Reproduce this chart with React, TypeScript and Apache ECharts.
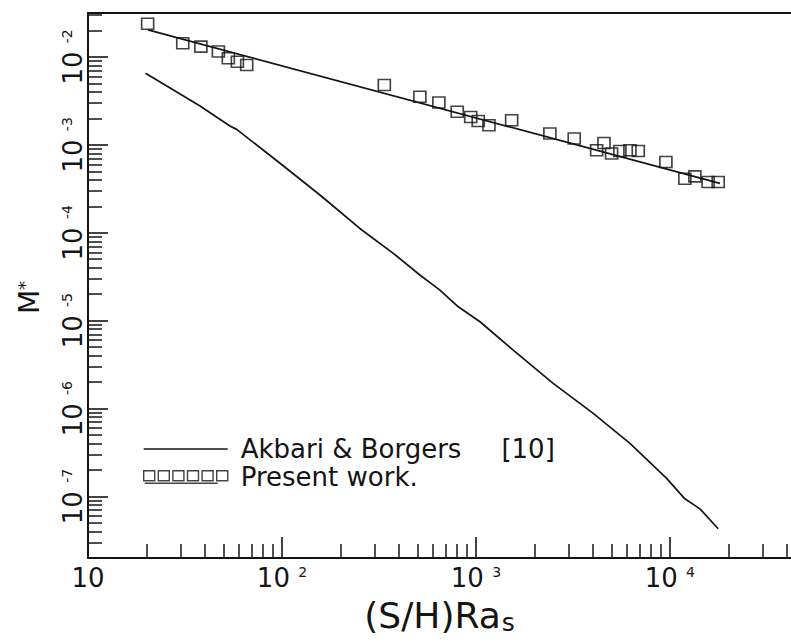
import React, { useEffect, useRef } from 'react';
import * as echarts from 'echarts';

// ---- data (log-log plot) ----
const presentX = [20.3, 30.8, 38.2, 47.0, 52.9, 58.9, 65.8, 337, 514, 644, 801, 940, 1028, 1167, 1528, 2405, 3211, 4191, 4571, 5005, 5522, 6222, 6869, 9534, 11940, 13450, 15740, 17740];
const presentY = [0.0238, 0.0143, 0.0131, 0.0115, 0.00966, 0.00884, 0.00811, 0.00479, 0.00352, 0.00304, 0.00238, 0.00208, 0.00187, 0.00167, 0.00191, 0.00135, 0.00118, 0.000868, 0.00105, 0.000796, 0.000851, 0.000868, 0.000851, 0.000638, 0.000412, 0.000438, 0.000378, 0.000378];
const fitX = [20.4, 18100];
const fitY = [0.0203, 0.000365];
const akbariX = [19.8, 37.8, 53.9, 58.4, 97.7, 157, 252, 375, 514, 652, 811, 1049, 1556, 2501, 4024, 6223, 9616, 11940, 14290, 17740];
const akbariY = [0.00653, 0.00277, 0.00164, 0.0015, 0.000618, 0.000269, 0.000112, 5.84e-5, 3.31e-5, 2.23e-5, 1.44e-5, 9.73e-6, 4.63e-6, 1.94e-6, 8.83e-7, 4.02e-7, 1.61e-7, 9.42e-8, 7.24e-8, 4.3e-8];
const xRange = [10, 42100];
const yRange = [2.0e-8, 0.0316];
const xLabelExponents = [1, 2, 3, 4];
const yLabelExponents = [-2, -3, -4, -5, -6, -7];
const akbariName = 'Akbari & Borgers [10]';
const presentName = 'Present work.';

const L = Math.log10;
const ink = '#141414';
const FONT = 'DejaVu Sans';

function minorTicks(lo: number, hi: number) {
  const out: number[] = [];
  for (let n = Math.floor(lo) - 1; n <= Math.ceil(hi); n++) {
    for (let k = 2; k <= 9; k++) {
      const v = n + L(k);
      if (v > lo && v < hi) out.push(v);
    }
  }
  return out;
}

export default function App() {
  const ref = useRef<HTMLDivElement>(null);
  useEffect(() => {
    if (!ref.current) return;
    const chart = echarts.init(ref.current, null, { renderer: 'svg' });
    const xMin = L(xRange[0]);
    const xMax = L(xRange[1]);
    const yMin = L(yRange[0]);
    const yMax = L(yRange[1]);

    const powRich = {
      b: { fontFamily: FONT, fontSize: 26, color: ink, lineHeight: 26 },
      s: { fontFamily: FONT, fontSize: 14, color: ink, lineHeight: 14, verticalAlign: 'top' },
    };
    const fmtPow = (v: number) => {
      const e = Math.round(v);
      return e === 1 ? '{b|10}' : `{b|10 }{s|${e}}`;
    };

    const squaresIcon =
      'path://M0,0h11v10h-11z M14.6,0h11v10h-11z M29.2,0h11v10h-11z M43.8,0h11v10h-11z M58.4,0h11v10h-11z M73,0h11v10h-11z M1,12.5L74,12.5';
    const lineIcon = 'path://M0,0h84v1.7h-84z';

    chart.setOption({
      animation: false,
      backgroundColor: '#ffffff',
      grid: { left: 88, right: 0, top: 13, bottom: 84, containLabel: false, outerBoundsMode: 'none' },
      legend: {
        orient: 'vertical',
        left: 143,
        top: 436,
        padding: 0,
        itemGap: 2,
        itemWidth: 84,
        itemHeight: 13,
        align: 'left',
        selectedMode: false,
        data: [
          { name: akbariName, icon: lineIcon, itemStyle: { color: ink, borderWidth: 0 } },
          {
            name: presentName,
            icon: squaresIcon,
            itemStyle: { color: 'rgba(0,0,0,0)', borderColor: ink, borderWidth: 1.4 },
          },
        ],
        formatter: (name: string) =>
          name === akbariName ? '{t|Akbari & Borgers}{r|[10]}' : '{t|Present work.}',
        textStyle: {
          rich: {
            t: { fontFamily: FONT, fontSize: 26, color: ink, lineHeight: 24, padding: [0, 0, 0, 8] },
            r: { fontFamily: FONT, fontSize: 26, color: ink, lineHeight: 24, padding: [0, 0, 0, 40] },
          },
        },
      },
      xAxis: [
        {
          type: 'value',
          min: xMin,
          max: xMax,
          position: 'bottom',
          splitLine: { show: false },
          axisLine: { show: true, onZero: false, lineStyle: { color: ink, width: 2 } },
          axisTick: { show: true, inside: true, length: 21, customValues: xLabelExponents, lineStyle: { color: ink, width: 1.6 } },
          axisLabel: { show: true, margin: 7, customValues: xLabelExponents, formatter: fmtPow, rich: powRich },
          name: '{a|(S/H)Ra}{b|s}',
          nameLocation: 'middle',
          nameGap: 19,
          nameTextStyle: {
            rich: {
              a: { fontFamily: FONT, fontSize: 36, color: ink, lineHeight: 44 },
              b: { fontFamily: FONT, fontSize: 25, color: ink, lineHeight: 25, padding: [14, 0, 0, 1] },
            },
          },
        },
        {
          type: 'value',
          min: xMin,
          max: xMax,
          position: 'bottom',
          splitLine: { show: false },
          axisLine: { show: false, onZero: false },
          axisTick: { show: true, inside: true, length: 14, customValues: minorTicks(xMin, xMax), lineStyle: { color: ink, width: 1.5 } },
          axisLabel: { show: false },
        },
        {
          type: 'value',
          min: xMin,
          max: xMax,
          position: 'top',
          splitLine: { show: false },
          axisLine: { show: true, onZero: false, lineStyle: { color: ink, width: 2 } },
          axisTick: { show: false },
          axisLabel: { show: false },
        },
      ],
      yAxis: [
        {
          type: 'value',
          min: yMin,
          max: yMax,
          position: 'left',
          splitLine: { show: false },
          axisLine: { show: true, onZero: false, lineStyle: { color: ink, width: 2 } },
          axisTick: { show: true, inside: true, length: 20, customValues: yLabelExponents, lineStyle: { color: ink, width: 1.6 } },
          axisLabel: { show: true, rotate: 90, margin: 2, customValues: yLabelExponents, formatter: fmtPow, rich: powRich },
          name: '{m|M}{s|*}',
          nameLocation: 'middle',
          nameRotate: 90,
          nameGap: 45,
          nameTextStyle: {
            padding: [0, 24, 0, 0],
            rich: {
              m: { fontFamily: FONT, fontSize: 28, color: ink, lineHeight: 28 },
              s: { fontFamily: FONT, fontSize: 18, color: ink, lineHeight: 18, verticalAlign: 'top' },
            },
          },
        },
        {
          type: 'value',
          min: yMin,
          max: yMax,
          position: 'left',
          splitLine: { show: false },
          axisLine: { show: false, onZero: false },
          axisTick: { show: true, inside: true, length: 14, customValues: minorTicks(yMin, yMax), lineStyle: { color: ink, width: 1.5 } },
          axisLabel: { show: false },
        },
      ],
      series: [
        {
          name: akbariName,
          type: 'line',
          xAxisIndex: 0,
          yAxisIndex: 0,
          symbol: 'none',
          lineStyle: { color: ink, width: 1.7 },
          itemStyle: { color: ink },
          data: akbariX.map((x, i) => [L(x), L(akbariY[i])]),
        },
        {
          name: 'fit',
          type: 'line',
          xAxisIndex: 0,
          yAxisIndex: 0,
          symbol: 'none',
          lineStyle: { color: ink, width: 1.7 },
          data: fitX.map((x, i) => [L(x), L(fitY[i])]),
        },
        {
          name: presentName,
          type: 'scatter',
          xAxisIndex: 0,
          yAxisIndex: 0,
          symbol: 'rect',
          symbolSize: [12, 11],
          itemStyle: { color: 'rgba(0,0,0,0)', borderColor: ink, borderWidth: 1.6 },
          data: presentX.map((x, i) => [L(x), L(presentY[i])]),
        },
      ],
    });
    return () => chart.dispose();
  }, []);
  return (
    <div
      ref={ref}
      style={{ position: 'fixed', left: 0, top: 0, width: 791, height: 642, background: '#fff' }}
    />
  );
}
